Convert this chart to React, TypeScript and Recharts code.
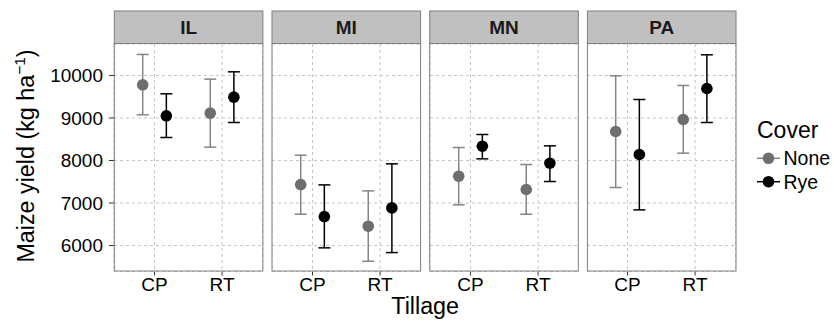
import React from 'react';
import { ScatterChart, Scatter, XAxis, YAxis, CartesianGrid, ErrorBar } from 'recharts';

// facets, x categories and fill groups
const states = ['IL', 'MI', 'MN', 'PA'];
const tillage = ['CP', 'RT'];
const covers = ['None', 'Rye'];

// maize yield (kg/ha) per state, [CP, RT]
const noneMean = [[9780, 9114], [7435, 6455], [7631, 7318], [8682, 8965]];
const noneLow = [[9075, 8314], [6737, 5631], [6957, 6737], [7365, 8173]];
const noneHigh = [[10494, 9914], [8125, 7286], [8306, 7906], [9992, 9765]];
const ryeMean = [[9051, 9490], [6682, 6886], [8337, 7937], [8141, 9694]];
const ryeLow = [[8541, 8894], [5946, 5835], [8039, 7506], [6839, 8894]];
const ryeHigh = [[9569, 10086], [7427, 7922], [8612, 8345], [9435, 10486]];

const yTicks = [6000, 7000, 8000, 9000, 10000];
const Y_MIN = 5390;
const Y_MAX = 10740;

// layout
const FONT = '"Liberation Sans", Arial, Helvetica, sans-serif';
const PANEL_X0 = 114.3;
const PANEL_STEP = 157.7;
const PANEL_W = 148.6;
const STRIP_TOP = 11;
const PANEL_TOP = 43.5;
const PANEL_H = 227.5;
const X_AXIS_H = 32;
const Y_AXIS_W = 70;
const DODGE = 0.175;
const BORDER = '#7f7f7f';
const TICK_FS = 19;

const coverColors = { None: '#6e6e6e', Rye: '#000000' };
const barColors = { None: '#858585', Rye: '#000000' };

const series = [
  { name: 'None', mean: noneMean, low: noneLow, high: noneHigh },
  { name: 'Rye', mean: ryeMean, low: ryeLow, high: ryeHigh },
];

function buildData(stateIdx: number, s: typeof series[number], k: number) {
  return tillage.map((t, j) => {
    const m = s.mean[stateIdx][j];
    return {
      tillage: t,
      x: j + 1 + (k === 0 ? -DODGE : DODGE),
      y: m,
      err: [m - s.low[stateIdx][j], s.high[stateIdx][j] - m],
    };
  });
}

const Dot = (color: string) => (props: any) => (
  <circle cx={props.cx} cy={props.cy} r={5.8} fill={color} />
);

function Panel({ idx }: { idx: number }) {
  const yw = idx === 0 ? Y_AXIS_W : 0;
  const left = PANEL_X0 + idx * PANEL_STEP - yw;
  return (
    <div style={{ position: 'absolute', left, top: PANEL_TOP }}>
      <ScatterChart
        width={PANEL_W + yw}
        height={PANEL_H + X_AXIS_H}
        margin={{ top: 0, right: 0, bottom: 0, left: 0 }}
      >
        <CartesianGrid strokeDasharray="3 3" stroke="#c6c6c6" />
        <XAxis
          dataKey="x"
          type="number"
          domain={[0.4, 2.6]}
          ticks={[1, 2]}
          allowDataOverflow
          tickFormatter={(v: number) => tillage[v - 1]}
          height={X_AXIS_H}
          axisLine={false}
          tickSize={4}
          tickMargin={2}
          tickLine={{ stroke: '#333333' }}
          tick={{ fill: '#000000', fontSize: TICK_FS, fontFamily: FONT }}
        />
        <YAxis
          dataKey="y"
          type="number"
          domain={[Y_MIN, Y_MAX]}
          ticks={yTicks}
          allowDataOverflow
          hide={idx > 0}
          width={yw}
          axisLine={false}
          tickSize={5}
          tickMargin={6}
          tickLine={{ stroke: '#333333' }}
          tick={{ fill: '#000000', fontSize: TICK_FS, fontFamily: FONT }}
        />
        {series.map((s, k) => (
          <Scatter
            key={s.name}
            name={s.name}
            data={buildData(idx, s, k)}
            fill={coverColors[s.name as 'None' | 'Rye']}
            shape={Dot(coverColors[s.name as 'None' | 'Rye'])}
            isAnimationActive={false}
          >
            <ErrorBar
              dataKey="err"
              direction="y"
              width={6}
              strokeWidth={1.5}
              stroke={barColors[s.name as 'None' | 'Rye']}
              isAnimationActive={false}
            />
          </Scatter>
        ))}
      </ScatterChart>
    </div>
  );
}

export default function App() {
  return (
    <div
      style={{
        position: 'absolute',
        left: 0,
        top: 0,
        width: 834,
        height: 323,
        background: '#ffffff',
        fontFamily: FONT,
      }}
    >
      {states.map((s, i) => (
        <Panel key={s} idx={i} />
      ))}
      <svg
        width={834}
        height={323}
        style={{ position: 'absolute', left: 0, top: 0, pointerEvents: 'none' }}
        fontFamily={FONT}
      >
        {states.map((s, i) => {
          const x = PANEL_X0 + i * PANEL_STEP;
          return (
            <g key={s}>
              <rect x={x} y={PANEL_TOP} width={PANEL_W} height={PANEL_H} fill="none" stroke={BORDER} strokeWidth={1} />
              <rect x={x} y={STRIP_TOP} width={PANEL_W} height={PANEL_TOP - STRIP_TOP} fill="#c0c0c0" stroke={BORDER} strokeWidth={1} />
              <text
                x={x + PANEL_W / 2}
                y={(STRIP_TOP + PANEL_TOP) / 2}
                dy="0.36em"
                textAnchor="middle"
                fontSize={19}
                fontWeight="bold"
                fill="#1a1a1a"
              >
                {s}
              </text>
            </g>
          );
        })}
        <text transform="rotate(-90)" x={-156} y={34} textAnchor="middle" fontSize={23.3} fill="#000">
          Maize yield (kg ha
          <tspan dy={-9} fontSize={15.5}>−1</tspan>
          <tspan dy={9}>)</tspan>
        </text>
        <text x={PANEL_X0 + (3 * PANEL_STEP + PANEL_W) / 2} y={314} textAnchor="middle" fontSize={23.3} fill="#000">
          Tillage
        </text>
        <text x={757} y={138} fontSize={23} fill="#000">
          Cover
        </text>
        {covers.map((c, k) => {
          const cy = 158.3 + k * 23.4;
          const col = coverColors[c as 'None' | 'Rye'];
          return (
            <g key={c}>
              <line x1={757} x2={780} y1={cy} y2={cy} stroke={barColors[c as 'None' | 'Rye']} strokeWidth={1.5} />
              <circle cx={768.5} cy={cy} r={5.8} fill={col} />
              <text x={783.5} y={cy} dy="0.36em" fontSize={19.5} fill="#000">
                {c}
              </text>
            </g>
          );
        })}
      </svg>
    </div>
  );
}
